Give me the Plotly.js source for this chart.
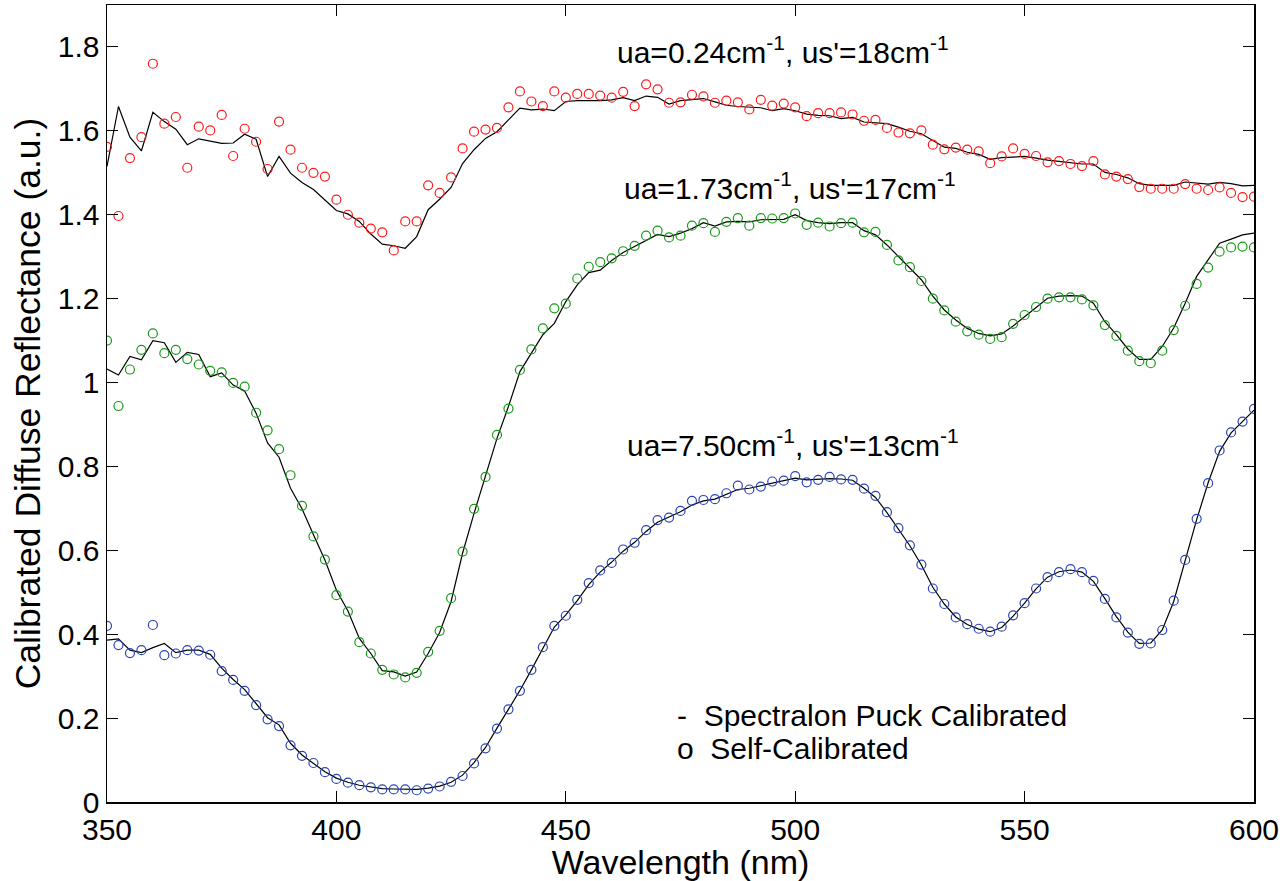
<!DOCTYPE html>
<html>
<head>
<meta charset="utf-8">
<script src="https://cdn.plot.ly/plotly-3.0.1.min.js"></script>
<style>html,body{margin:0;padding:0;background:#fff;}#chart{width:1285px;height:881px;}</style>
</head>
<body>
<div id="chart"></div>
<script>
const wavelength = [350,352.5,355,357.5,360,362.5,365,367.5,370,372.5,375,377.5,380,382.5,385,387.5,390,392.5,395,397.5,400,402.5,405,407.5,410,412.5,415,417.5,420,422.5,425,427.5,430,432.5,435,437.5,440,442.5,445,447.5,450,452.5,455,457.5,460,462.5,465,467.5,470,472.5,475,477.5,480,482.5,485,487.5,490,492.5,495,497.5,500,502.5,505,507.5,510,512.5,515,517.5,520,522.5,525,527.5,530,532.5,535,537.5,540,542.5,545,547.5,550,552.5,555,557.5,560,562.5,565,567.5,570,572.5,575,577.5,580,582.5,585,587.5,590,592.5,595,597.5,600];

// ua=0.24, us'=18
const redSelf = [1.562,1.397,1.535,1.585,1.760,1.617,1.633,1.512,1.610,1.601,1.638,1.540,1.605,1.574,1.509,1.622,1.555,1.512,1.500,1.491,1.436,1.400,1.381,1.367,1.358,1.315,1.384,1.384,1.470,1.452,1.489,1.558,1.598,1.603,1.607,1.656,1.694,1.670,1.659,1.694,1.679,1.688,1.688,1.684,1.679,1.693,1.659,1.711,1.699,1.667,1.668,1.686,1.682,1.667,1.672,1.668,1.651,1.674,1.660,1.665,1.656,1.635,1.642,1.642,1.644,1.639,1.624,1.626,1.607,1.596,1.594,1.601,1.567,1.556,1.560,1.555,1.551,1.523,1.539,1.558,1.545,1.540,1.525,1.528,1.521,1.516,1.528,1.496,1.491,1.485,1.466,1.462,1.462,1.462,1.473,1.462,1.459,1.465,1.452,1.442,1.443];
const redPuck = [1.515,1.658,1.585,1.552,1.644,1.622,1.604,1.567,1.581,1.575,1.570,1.571,1.592,1.580,1.491,1.539,1.499,1.477,1.460,1.435,1.410,1.402,1.384,1.354,1.330,1.326,1.320,1.348,1.412,1.437,1.465,1.522,1.555,1.582,1.598,1.626,1.654,1.650,1.652,1.648,1.670,1.672,1.672,1.672,1.674,1.679,1.672,1.683,1.680,1.664,1.672,1.674,1.677,1.669,1.661,1.658,1.656,1.655,1.648,1.653,1.648,1.640,1.637,1.636,1.629,1.632,1.621,1.619,1.617,1.609,1.599,1.593,1.578,1.561,1.558,1.549,1.544,1.532,1.536,1.538,1.539,1.535,1.530,1.527,1.524,1.521,1.521,1.501,1.496,1.488,1.474,1.470,1.470,1.470,1.478,1.475,1.473,1.477,1.474,1.469,1.470];

// ua=1.73, us'=17
const greenSelf = [1.100,0.944,1.031,1.078,1.117,1.070,1.078,1.056,1.043,1.028,1.024,0.999,0.990,0.928,0.886,0.841,0.779,0.706,0.633,0.578,0.493,0.454,0.381,0.354,0.315,0.304,0.297,0.308,0.358,0.408,0.486,0.597,0.699,0.775,0.875,0.938,1.030,1.079,1.129,1.177,1.188,1.248,1.276,1.287,1.296,1.313,1.326,1.350,1.362,1.346,1.350,1.374,1.380,1.359,1.383,1.392,1.374,1.392,1.391,1.392,1.403,1.376,1.381,1.372,1.380,1.381,1.358,1.359,1.328,1.291,1.275,1.242,1.200,1.172,1.145,1.122,1.114,1.104,1.108,1.140,1.161,1.180,1.200,1.203,1.203,1.198,1.184,1.137,1.111,1.076,1.051,1.046,1.076,1.125,1.183,1.235,1.274,1.312,1.322,1.324,1.322];
const greenPuck = [1.032,1.018,1.062,1.054,1.100,1.095,1.048,1.072,1.067,1.014,1.023,0.994,0.980,0.927,0.856,0.822,0.748,0.699,0.637,0.577,0.505,0.456,0.390,0.354,0.313,0.310,0.300,0.310,0.354,0.404,0.478,0.593,0.688,0.776,0.867,0.943,1.026,1.070,1.114,1.141,1.193,1.233,1.262,1.268,1.291,1.310,1.324,1.340,1.353,1.348,1.356,1.367,1.381,1.373,1.383,1.384,1.383,1.388,1.389,1.389,1.400,1.386,1.381,1.379,1.381,1.381,1.362,1.352,1.328,1.300,1.272,1.245,1.206,1.173,1.149,1.129,1.117,1.111,1.116,1.135,1.157,1.179,1.201,1.206,1.207,1.206,1.189,1.145,1.114,1.080,1.055,1.055,1.086,1.130,1.189,1.253,1.292,1.332,1.342,1.352,1.356];

// ua=7.50, us'=13
const blueSelf = [0.420,0.374,0.355,0.362,0.422,0.350,0.354,0.362,0.361,0.351,0.312,0.291,0.265,0.231,0.197,0.181,0.135,0.110,0.093,0.071,0.055,0.046,0.040,0.035,0.030,0.030,0.030,0.028,0.032,0.037,0.048,0.062,0.092,0.128,0.175,0.221,0.265,0.315,0.369,0.420,0.444,0.482,0.522,0.552,0.570,0.602,0.618,0.648,0.672,0.678,0.694,0.718,0.720,0.722,0.736,0.754,0.745,0.752,0.764,0.766,0.777,0.762,0.768,0.775,0.769,0.768,0.747,0.730,0.691,0.653,0.612,0.566,0.509,0.472,0.440,0.424,0.413,0.406,0.418,0.445,0.474,0.509,0.536,0.548,0.555,0.548,0.527,0.484,0.440,0.404,0.377,0.378,0.410,0.480,0.577,0.675,0.760,0.838,0.881,0.907,0.937];
const bluePuck = [0.386,0.389,0.362,0.356,0.368,0.378,0.356,0.362,0.362,0.352,0.319,0.292,0.268,0.234,0.201,0.184,0.140,0.112,0.092,0.072,0.057,0.047,0.040,0.036,0.032,0.031,0.031,0.030,0.033,0.038,0.047,0.064,0.094,0.130,0.176,0.220,0.266,0.315,0.366,0.417,0.446,0.480,0.518,0.548,0.572,0.598,0.619,0.645,0.667,0.680,0.692,0.708,0.718,0.722,0.733,0.745,0.748,0.754,0.761,0.766,0.772,0.768,0.769,0.771,0.770,0.767,0.748,0.726,0.690,0.652,0.611,0.565,0.512,0.472,0.441,0.423,0.412,0.406,0.416,0.443,0.474,0.508,0.536,0.549,0.553,0.548,0.526,0.485,0.442,0.405,0.378,0.379,0.410,0.478,0.575,0.673,0.761,0.836,0.880,0.906,0.934];

const xTicks = [350,400,450,500,550,600];
const yTicks = [0,0.2,0.4,0.6,0.8,1,1.2,1.4,1.6,1.8];
const yTickText = ["0","0.2","0.4","0.6","0.8","1","1.2","1.4","1.6","1.8"];
const labels = ["ua=0.24cm<sup>-1</sup>, us'=18cm<sup>-1</sup>","ua=1.73cm<sup>-1</sup>, us'=17cm<sup>-1</sup>","ua=7.50cm<sup>-1</sup>, us'=13cm<sup>-1</sup>"];
const legendLines = ["-  Spectralon Puck Calibrated","o  Self-Calibrated"];

const FONT = 'Arial, "Liberation Sans", sans-serif';

function lineTrace(y){return {x:wavelength,y:y,mode:'lines',type:'scatter',line:{color:'#000000',width:1.2},hoverinfo:'skip'};}
function markTrace(y,c){return {x:wavelength,y:y,mode:'markers',type:'scatter',marker:{symbol:'circle-open',size:9,color:c,line:{width:1.2,color:c}},hoverinfo:'skip'};}

const data = [
  lineTrace(redPuck), lineTrace(greenPuck), lineTrace(bluePuck),
  markTrace(redSelf,'#ff1a1a'), markTrace(greenSelf,'#1a991a'), markTrace(blueSelf,'#2a45b8')
];

const ann = (txt,x,y)=>({text:txt,xref:'paper',yref:'paper',x:x,y:y,xanchor:'left',yanchor:'middle',showarrow:false,font:{family:FONT,size:30,color:'#000'}});

const layout = {
  width:1285,height:881,
  margin:{l:107,r:31,t:5,b:79,pad:0},
  paper_bgcolor:'#ffffff',plot_bgcolor:'#ffffff',
  showlegend:false,
  font:{family:FONT,color:'#000'},
  xaxis:{range:[350,600],tickvals:xTicks,ticks:'inside',ticklen:11,tickwidth:1,tickcolor:'#000',
    showline:true,linecolor:'#000',linewidth:1.5,mirror:'ticks',showgrid:false,zeroline:false,
    tickfont:{family:FONT,size:30,color:'#000'},
    title:{text:'Wavelength (nm)',font:{family:FONT,size:34,color:'#000'},standoff:5}},
  yaxis:{range:[0,1.9],tickvals:yTicks,ticktext:yTickText,ticks:'inside',ticklen:11,tickwidth:1,tickcolor:'#000',
    showline:true,linecolor:'#000',linewidth:1.5,mirror:'ticks',showgrid:false,zeroline:false,
    tickfont:{family:FONT,size:30,color:'#000'},
    title:{text:'Calibrated Diffuse Reflectance (a.u.)',font:{family:FONT,size:35.5,color:'#000'},standoff:6}},
  annotations:[
    ann(labels[0],0.443,0.944),
    ann(labels[1],0.449,0.773),
    ann(labels[2],0.452,0.450),
    ann(legendLines[0],0.495,0.108),
    ann(legendLines[1],0.495,0.0665)
  ]
};

Plotly.newPlot('chart',data,layout,{displayModeBar:false,staticPlot:true});
</script>
</body>
</html>
